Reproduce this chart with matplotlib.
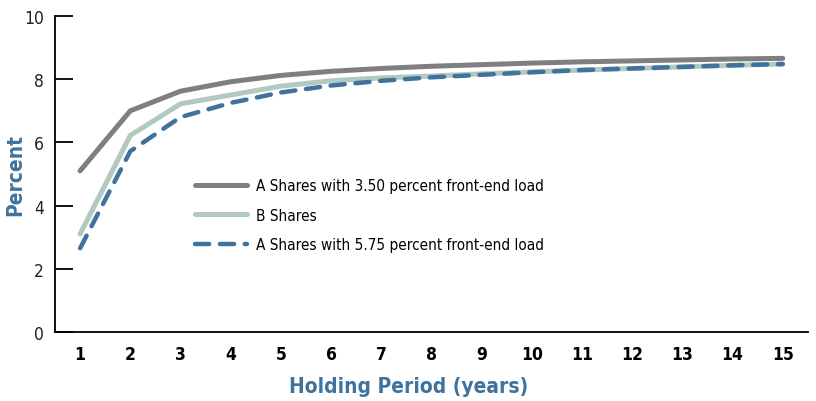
import matplotlib
matplotlib.use("Agg")
import matplotlib.pyplot as plt

plt.rcParams['font.family'] = ['DejaVu Sans']
plt.rcParams['font.stretch'] = 'condensed'

years = list(range(1, 16))
a_350 = [5.1, 7.0, 7.62, 7.92, 8.12, 8.25, 8.34, 8.41, 8.46, 8.51, 8.55, 8.58, 8.61, 8.64, 8.66]
b_shares = [3.1, 6.22, 7.22, 7.5, 7.78, 7.95, 8.04, 8.1, 8.17, 8.23, 8.29, 8.34, 8.39, 8.44, 8.48]
a_575 = [2.65, 5.72, 6.8, 7.25, 7.58, 7.8, 7.95, 8.06, 8.14, 8.22, 8.29, 8.34, 8.39, 8.44, 8.48]

grey = '#7f7f7f'
green = '#b1c9be'
blue = '#3f729c'

fig = plt.figure(figsize=(8.16, 4.02), dpi=100)
ax = fig.add_axes([0.0674, 0.1716, 0.9226, 0.7861])

ax.plot(years, a_350, color=grey, lw=3.6, solid_capstyle='round',
        label='A Shares with 3.50 percent front-end load')
ax.plot(years, b_shares, color=green, lw=3.6, solid_capstyle='round',
        label='B Shares')
ax.plot(years, a_575, color=blue, lw=3.2, dashes=(3.2, 2.4), dash_capstyle='round',
        label='A Shares with 5.75 percent front-end load')

ax.set_xlim(0.5, 15.5)
ax.set_ylim(0, 10)
ax.set_xticks(years)
ax.set_yticks([0, 2, 4, 6, 8, 10])

for s in ['top', 'right']:
    ax.spines[s].set_visible(False)
ax.spines['left'].set_linewidth(1.3)
ax.spines['bottom'].set_linewidth(1.3)

ax.tick_params(axis='x', length=0, pad=9, labelsize=12.5)
ax.tick_params(axis='y', direction='in', length=13, width=1.3, pad=8, labelsize=12.5)
for lbl in ax.get_xticklabels():
    lbl.set_fontweight('bold')
for lbl in ax.get_yticklabels():
    lbl.set_color('#222222')

ax.set_xlabel('Holding Period (years)', fontsize=15, fontweight='bold', color=blue)
ax.set_ylabel('Percent', fontsize=15, fontweight='bold', color=blue)
ax.xaxis.set_label_coords(0.47, -0.14)
ax.yaxis.set_label_coords(-0.04, 0.5)

ax.legend(loc='upper left', bbox_to_anchor=(0.168, 0.53), frameon=False,
          fontsize=11, handlelength=3.4, handletextpad=0.6, labelspacing=0.95)

fig.savefig('out.png', dpi=100)
